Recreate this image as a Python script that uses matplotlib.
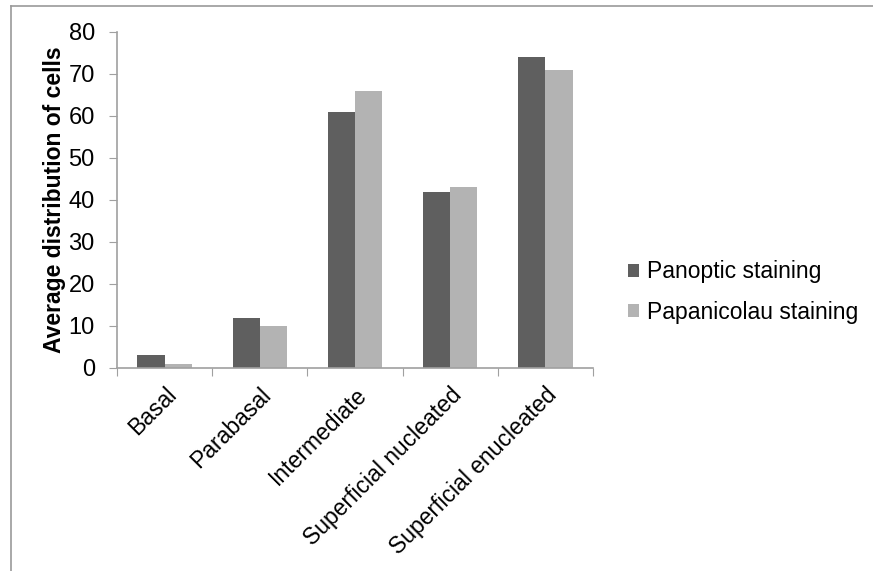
import matplotlib
matplotlib.use("Agg")
import matplotlib.pyplot as plt
import numpy as np
from matplotlib.lines import Line2D

plt.rcParams['font.family'] = ['Liberation Sans', 'DejaVu Sans']

categories = ["Basal", "Parabasal", "Intermediate", "Superficial nucleated", "Superficial enucleated"]
panoptic = [3, 12, 61, 42, 74]
papanicolau = [1, 10, 66, 43, 71]
series_names = ["Panoptic staining", "Papanicolau staining"]
yticks = [0, 10, 20, 30, 40, 50, 60, 70, 80]

fig = plt.figure(figsize=(8.73, 5.71), dpi=100)
ax = fig.add_axes([117/873, 1-368/571, (593-117)/873, (368-32)/571])

x = np.arange(len(categories))
w = 0.285
ax.bar(x - w/2, panoptic, width=w, color='#5f5f5f', label=series_names[0])
ax.bar(x + w/2, papanicolau, width=w, color='#b3b3b3', label=series_names[1])

ax.set_xlim(-0.5, len(categories) - 0.5)
ax.set_ylim(0, 80)
ax.set_yticks(yticks)
ax.set_yticklabels([str(v) for v in yticks], fontsize=17)

ax.set_xticks(np.arange(len(categories) + 1) - 0.5)
ax.set_xticklabels([])
ax.set_xticks(x, minor=True)
ax.set_xticklabels(categories, minor=True, rotation=45, ha='right', va='top',
                   rotation_mode='anchor', fontsize=16.5)
ax.tick_params(axis='x', which='minor', length=0, pad=11)
ax.tick_params(axis='x', which='major', length=6, color='#a0a0a0', direction='out')
ax.tick_params(axis='y', length=6, color='#a0a0a0', direction='out', pad=10)

for s in ['top', 'right']:
    ax.spines[s].set_visible(False)
for s in ['left', 'bottom']:
    ax.spines[s].set_color('#a0a0a0')
    ax.spines[s].set_linewidth(1.2)

ax.set_ylabel("Average distribution of cells", fontsize=16.5, fontweight='bold', labelpad=2)

leg = ax.legend(loc='center left', bbox_to_anchor=(628/873, 1-292/571),
                bbox_transform=fig.transFigure, frameon=False, fontsize=16.5,
                handlelength=0.5, handleheight=0.5, handletextpad=0.35, labelspacing=0.75,
                borderaxespad=0, borderpad=0)

fig.add_artist(Line2D([11/873, 1], [1-6/571, 1-6/571], transform=fig.transFigure, color='#999999', lw=1.2))
fig.add_artist(Line2D([11/873, 11/873], [0, 1-6/571], transform=fig.transFigure, color='#999999', lw=1.2))

fig.savefig("out.png", dpi=100)
